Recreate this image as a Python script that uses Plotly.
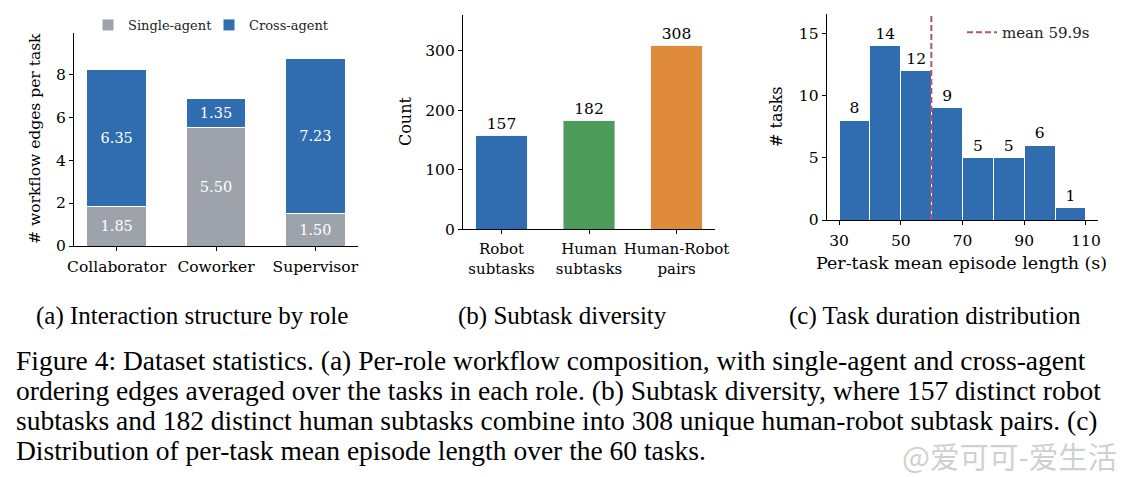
import plotly.graph_objects as go

# ---------------- data ----------------
roles = ["Collaborator", "Coworker", "Supervisor"]
single_agent = [1.85, 5.50, 1.50]
cross_agent = [6.35, 1.35, 7.23]

subtask_labels = ["Robot<br>subtasks", "Human<br>subtasks", "Human-Robot<br>pairs"]
subtask_counts = [157, 182, 308]

bin_edges = [30, 40, 50, 60, 70, 80, 90, 100, 110]
task_counts = [8, 14, 12, 9, 5, 5, 6, 1]
mean_len = 59.9

subcaptions = ["(a) Interaction structure by role",
               "(b) Subtask diversity",
               "(c) Task duration distribution"]
caption_lines = [
    "Figure 4: Dataset statistics. (a) Per-role workflow composition, with single-agent and cross-agent",
    "ordering edges averaged over the tasks in each role. (b) Subtask diversity, where 157 distinct robot",
    "subtasks and 182 distinct human subtasks combine into 308 unique human-robot subtask pairs. (c)",
    "Distribution of per-task mean episode length over the 60 tasks.",
]
watermark = "@爱可可-爱生活"

# ---------------- style ----------------
W, H = 1130, 477
GREY = "#9ea3ab"
BLUE = "#2f6cb0"
GREEN = "#4e9c5c"
ORANGE = "#e08a3c"
RED = "#b0566a"
SERIF = "DejaVu Serif"
CAP = "Liberation Serif"
TICK = 15.5


def px(x):
    return x / W


def py(y):
    return 1 - y / H


fig = go.Figure()

# panel a
for vals, name, col in [(single_agent, "Single-agent", GREY), (cross_agent, "Cross-agent", BLUE)]:
    fig.add_trace(go.Bar(x=roles, y=vals, name=name, marker_color=col,
                         marker_line=dict(color="white", width=1), width=0.6,
                         text=[f"{v:.2f}" for v in vals], textposition="inside",
                         insidetextanchor="middle", constraintext="none",
                         textfont=dict(color="white", size=14.5, family=SERIF),
                         xaxis="x", yaxis="y", legend="legend"))

# panel b
fig.add_trace(go.Bar(x=subtask_labels, y=subtask_counts, marker_color=[BLUE, GREEN, ORANGE],
                     width=0.59, text=[str(v) for v in subtask_counts], textposition="outside",
                     constraintext="none", cliponaxis=False,
                     textfont=dict(color="black", size=15.5, family=SERIF),
                     showlegend=False, xaxis="x2", yaxis="y2"))

# panel c
centers = [(a + b) / 2 for a, b in zip(bin_edges[:-1], bin_edges[1:])]
widths = [b - a for a, b in zip(bin_edges[:-1], bin_edges[1:])]
fig.add_trace(go.Bar(x=centers, y=task_counts, width=widths, marker_color=BLUE,
                     marker_line=dict(color="white", width=1),
                     text=[str(v) for v in task_counts], textposition="outside",
                     constraintext="none", cliponaxis=False,
                     textfont=dict(color="black", size=15.5, family=SERIF),
                     showlegend=False, xaxis="x3", yaxis="y3"))
YMAX_C = 16.55
fig.add_trace(go.Scatter(x=[mean_len, mean_len], y=[0, YMAX_C], mode="lines",
                         line=dict(color=RED, width=2, dash="6px,3px"),
                         name=f"mean {mean_len}s", xaxis="x3", yaxis="y3", legend="legend2"))

axis_common = dict(showline=True, linecolor="black", linewidth=1.2, ticks="outside",
                   ticklen=4, tickwidth=1.2, tickcolor="black", showgrid=False,
                   zeroline=False, tickfont=dict(family=SERIF, size=TICK, color="black"))
xcommon = dict(axis_common, ticklabelstandoff=2, tickangle=0)

fig.update_layout(
    width=W, height=H, margin=dict(l=0, r=0, t=0, b=0, autoexpand=False),
    paper_bgcolor="white", plot_bgcolor="white",
    barmode="stack", bargap=0.4,
    font=dict(family=SERIF, color="black"),
    xaxis=dict(domain=[px(74), px(358)], range=[-0.43, 2.43], anchor="y", **xcommon),
    yaxis=dict(domain=[py(246), py(33)], range=[0, 9.92], tickvals=[0, 2, 4, 6, 8],
               anchor="x", **axis_common),
    xaxis2=dict(domain=[px(463), px(715)], range=[-0.44, 2.44], anchor="y2",
                **dict(xcommon, tickfont=dict(family=SERIF, size=15, color="black"))),
    yaxis2=dict(domain=[py(229.3), py(15)], range=[0, 360], tickvals=[0, 100, 200, 300],
                anchor="x2", **axis_common),
    xaxis3=dict(domain=[px(826.7), px(1098.3)], range=[26, 114],
                tickvals=[30, 50, 70, 90, 110], anchor="y3", **xcommon),
    yaxis3=dict(domain=[py(220), py(14)], range=[0, YMAX_C], tickvals=[0, 5, 10, 15],
                anchor="x3", **axis_common),
    legend=dict(orientation="h", x=px(88), y=py(10), xanchor="left", yanchor="top",
                font=dict(family=SERIF, size=13, color="#222"), bgcolor="rgba(0,0,0,0)",
                itemwidth=30, entrywidth=76, entrywidthmode="pixels", traceorder="normal"),
    legend2=dict(orientation="h", x=px(962), y=py(16), xanchor="left", yanchor="top",
                 font=dict(family=SERIF, size=15, color="#222"), bgcolor="rgba(0,0,0,0)",
                 itemwidth=30),
)

ann = []


def add_text(text, x, y, size, family=SERIF, angle=0, xanchor="center", yanchor="middle",
             color="black"):
    ann.append(dict(text=text, x=px(x), y=py(y), xref="paper", yref="paper", showarrow=False,
                    textangle=angle, xanchor=xanchor, yanchor=yanchor,
                    font=dict(family=family, size=size, color=color)))


# axis titles
add_text("# workflow edges per task", 35, 139, 15.5, angle=-90)
add_text("Count", 405, 122, 16, angle=-90)
add_text("# tasks", 777, 117, 16, angle=-90)
add_text("Per-task mean episode length (s)", 962, 263, 17.5)
# sub-captions
for t, cx in zip(subcaptions, [192, 562, 935]):
    add_text(t, cx, 332, 25, family=CAP, yanchor="bottom")
# caption
for i, line in enumerate(caption_lines):
    add_text(line, 14, 378 + 30 * i, 27.5, family=CAP, xanchor="left", yanchor="bottom")
# watermark
add_text(watermark, 1119, 455, 29.5, family="Noto Sans CJK SC", xanchor="right",
         color="rgba(200,200,200,0.85)")
fig.update_layout(annotations=ann)

fig.write_html("out.html")
